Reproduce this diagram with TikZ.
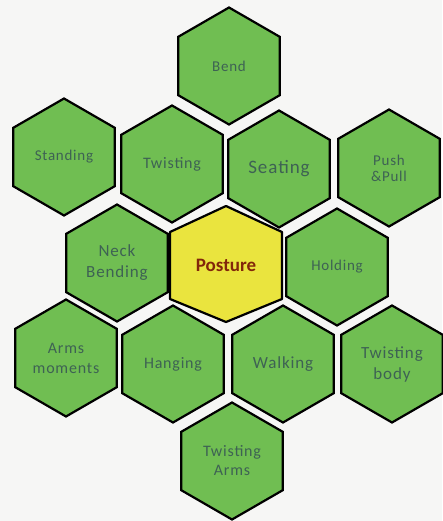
\documentclass[tikz,border=0pt]{standalone}
\usepackage{fontspec}
\setmainfont{Carlito}
\newfontfamily\hexfont[LetterSpace=5]{Carlito}
\usepackage{tikz}
\usetikzlibrary{shapes.geometric}

\definecolor{hexgreen}{RGB}{112,190,82}
\definecolor{hexyellow}{RGB}{234,228,62}
\definecolor{hextext}{RGB}{62,98,84}
\definecolor{coretext}{RGB}{130,38,10}
\definecolor{paper}{RGB}{246,246,245}

\begin{document}
\begin{tikzpicture}[x=1pt,y=-1pt,
    hex/.style={regular polygon,regular polygon sides=6,shape border rotate=30,
      minimum size=117pt,inner sep=0pt,draw=black,line width=2.2pt,fill=hexgreen,
      text=hextext,align=center,font=\hexfont\fontsize{15}{18}\selectfont},
    core/.style={text=coretext,font=\bfseries\fontsize{19}{22}\selectfont}]
  \fill[paper] (0,0) rectangle (442,521);
  \useasboundingbox (0,0) rectangle (442,521);

  % Top
  \node[hex] (bend) at (229,66) {Bend};

  % Second row
  \node[hex] (standing) at (64,157) {Standing};
  \node[hex,font=\hexfont\fontsize{16}{18}\selectfont] (twisting) at (172,164) {Twisting};
  \node[hex,font=\hexfont\fontsize{19}{22}\selectfont] (seating) at (279,169) {Seating};
  \node[hex] (pushpull) at (389,168) {Push\\[-2pt]\&Pull};

  % Middle row: posture in the centre (a wider hexagon)
  \node[hex,font=\hexfont\fontsize{17}{21}\selectfont] (neck) at (117,263) {Neck\\Bending};
  \filldraw[fill=hexyellow,line width=2.2pt,line join=round,shift={(226,264)}]
    (0,-58) -- (56,-32) -- (56,35) -- (0,58) -- (-56,35) -- (-56,-32) -- cycle;
  \node[core] (posture) at (226,265) {Posture};
  \node[hex] (holding) at (337,267) {Holding};

  % Fourth row
  \node[hex,font=\hexfont\fontsize{16}{20}\selectfont] (armsmom) at (66,358) {Arms\\moments};
  \node[hex,font=\hexfont\fontsize{16}{18}\selectfont] (hanging) at (173,364) {Hanging};
  \node[hex,font=\hexfont\fontsize{17}{18}\selectfont] (walking) at (283,364) {Walking};
  \node[hex,font=\hexfont\fontsize{17}{21}\selectfont] (twistbody) at (392,364) {Twisting\\body};

  % Bottom
  \node[hex,font=\hexfont\fontsize{16}{19}\selectfont] (twistarms) at (232,461) {Twisting\\Arms};
\end{tikzpicture}
\end{document}
